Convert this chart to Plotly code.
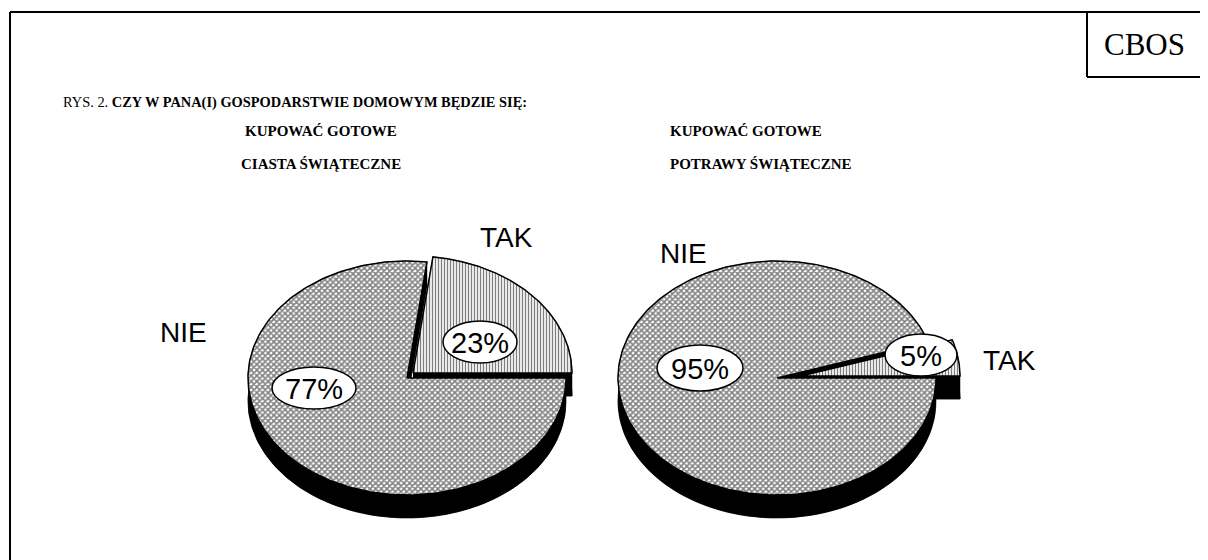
import numpy as np
import plotly.graph_objects as go

# ---------------- data ----------------
categories = ["TAK", "NIE"]
ciasta_values = [23, 77]      # KUPOWAĆ GOTOWE CIASTA ŚWIĄTECZNE
potrawy_values = [5, 95]      # KUPOWAĆ GOTOWE POTRAWY ŚWIĄTECZNE
pie_titles = [["KUPOWAĆ GOTOWE", "CIASTA ŚWIĄTECZNE"],
              ["KUPOWAĆ GOTOWE", "POTRAWY ŚWIĄTECZNE"]]
main_title_prefix = "RYS. 2. "
main_title = "CZY W PANA(I) GOSPODARSTWIE DOMOWYM BĘDZIE SIĘ:"
source_label = "CBOS"

# ---------------- layout constants (page pixels) ----------------
W, H = 1208, 560
PAGE_OFF = 8          # default body margin of the html page
RX, RY, DEPTH = 159, 117, 23
pies = [
    dict(values=ciasta_values, cx=407, cy=378, explode=(6, -5),
         cat_pos={"NIE": (-224, -46), "TAK": (99, -141)},
         pct_pos={"NIE": (-93, 10), "TAK": (73, -36)},
         pct_size={"NIE": (84, 42), "TAK": (74, 42)},
         title_x=321, title_anchor="center"),
    dict(values=potrawy_values, cx=777, cy=378, explode=(24, -2),
         cat_pos={"NIE": (-94, -125), "TAK": (232, -18)},
         pct_pos={"NIE": (-77, -10), "TAK": (144, -23)},
         pct_size={"NIE": (86, 46), "TAK": (72, 42)},
         title_x=668, title_anchor="left"),
]

PAT = {
    "NIE": dict(shape="x", size=4, solidity=0.62, fgcolor="black", bgcolor="white"),
    "TAK": dict(shape="|", size=3, solidity=0.45, fgcolor="black", bgcolor="white"),
}

fig = go.Figure()


def arc(cx, cy, a0, a1, n=240):
    t = np.radians(np.linspace(a0, a1, n))
    return cx + RX * np.cos(t), cy - RY * np.sin(t)


def wedge(cx, cy, a0, a1):
    ax, ay = arc(cx, cy, a0, a1)
    return np.r_[cx, ax, cx], np.r_[cy, ay, cy]


def poly(x, y, fill="black", pattern=None, lw=1.2):
    kw = dict(x=list(x), y=list(y), mode="lines", fill="toself",
              line=dict(color="black", width=lw), hoverinfo="skip",
              showlegend=False)
    if pattern is not None:
        kw["fillpattern"] = pattern
        kw["fillcolor"] = "white"
    else:
        kw["fillcolor"] = fill
    fig.add_trace(go.Scatter(**kw))


for p in pies:
    vals = p["values"]
    total = float(sum(vals))
    # slices: TAK from 0 deg counter-clockwise, then NIE to 360
    spans = []
    start = 0.0
    for cat, v in zip(categories, vals):
        end = start + 360.0 * v / total
        spans.append((cat, start, end))
        start = end
    geo = []
    for cat, a0, a1 in spans:
        ox, oy = p["explode"] if cat == "TAK" else (0, 0)
        geo.append((cat, p["cx"] + ox, p["cy"] + oy, a0, a1))

    # extrusions (black sides)
    for cat, cx, cy, a0, a1 in geo:
        wx, wy = wedge(cx, cy + DEPTH, a0, a1)
        poly(wx, wy, lw=0.5)
        ax, ay = arc(cx, cy, a0, a1)
        poly(np.r_[ax, ax[::-1]], np.r_[ay, ay[::-1] + DEPTH], lw=0.5)
        for a in (a0, a1):
            ex, ey = arc(cx, cy, a, a, n=1)
            poly([cx, ex[0], ex[0], cx], [cy, ey[0], ey[0] + DEPTH, cy + DEPTH], lw=0.5)

    # top faces: NIE first (front), then TAK
    for cat, cx, cy, a0, a1 in sorted(geo, key=lambda g: g[0] != "NIE"):
        wx, wy = wedge(cx, cy, a0, a1)
        poly(wx, wy, pattern=PAT[cat], lw=1.5)

    # category labels
    for cat in categories:
        dx, dy = p["cat_pos"][cat]
        fig.add_annotation(x=p["cx"] + dx, y=p["cy"] + dy, text=cat,
                           showarrow=False, xref="x", yref="y",
                           font=dict(family="Liberation Sans, Arial", size=28, color="black"))
    # percent labels in white ellipses
    for cat, v in zip(categories, vals):
        dx, dy = p["pct_pos"][cat]
        w, h = p["pct_size"][cat]
        x0, y0 = p["cx"] + dx, p["cy"] + dy
        fig.add_shape(type="circle", xref="x", yref="y",
                      x0=x0 - w / 2, x1=x0 + w / 2, y0=y0 - h / 2, y1=y0 + h / 2,
                      line=dict(color="black", width=1.5), fillcolor="white", layer="above")
        fig.add_annotation(x=x0, y=y0 + 1, text=f"{v}%", showarrow=False,
                           xref="x", yref="y",
                           font=dict(family="Liberation Sans, Arial", size=29, color="black"))

# pie titles
TFONT = dict(family="Liberation Serif, Times New Roman", size=15, color="black")
for p, lines in zip(pies, pie_titles):
    for i, line in enumerate(lines):
        fig.add_annotation(x=p["title_x"], y=131 + 33 * i, text=f"<b>{line}</b>",
                           showarrow=False, xref="x", yref="y",
                           xanchor=p["title_anchor"], font=TFONT)

fig.add_annotation(x=61, y=102, text=f"{main_title_prefix}<b>{main_title}</b>",
                   showarrow=False, xref="x", yref="y", xanchor="left",
                   font=dict(family="Liberation Serif, Times New Roman", size=14.4, color="black"))
fig.add_annotation(x=1144, y=44, text=source_label, showarrow=False,
                   xref="x", yref="y",
                   font=dict(family="Liberation Serif, Times New Roman", size=31, color="black"))

# frame lines
frame = dict(color="black", width=2)
fig.add_shape(type="line", xref="x", yref="y", x0=10, x1=1230, y0=12, y1=12, line=frame)
fig.add_shape(type="line", xref="x", yref="y", x0=10, x1=10, y0=12, y1=580, line=frame)
fig.add_shape(type="line", xref="x", yref="y", x0=1087, x1=1087, y0=12, y1=77, line=frame)
fig.add_shape(type="line", xref="x", yref="y", x0=1087, x1=1230, y0=77, y1=77, line=frame)

fig.update_layout(
    width=W, height=H, margin=dict(l=0, r=0, t=0, b=0),
    paper_bgcolor="white", plot_bgcolor="white", showlegend=False,
    xaxis=dict(range=[PAGE_OFF, W + PAGE_OFF], visible=False, fixedrange=True),
    yaxis=dict(range=[H + PAGE_OFF, PAGE_OFF], visible=False, fixedrange=True),
)
fig.write_html("out.html")
